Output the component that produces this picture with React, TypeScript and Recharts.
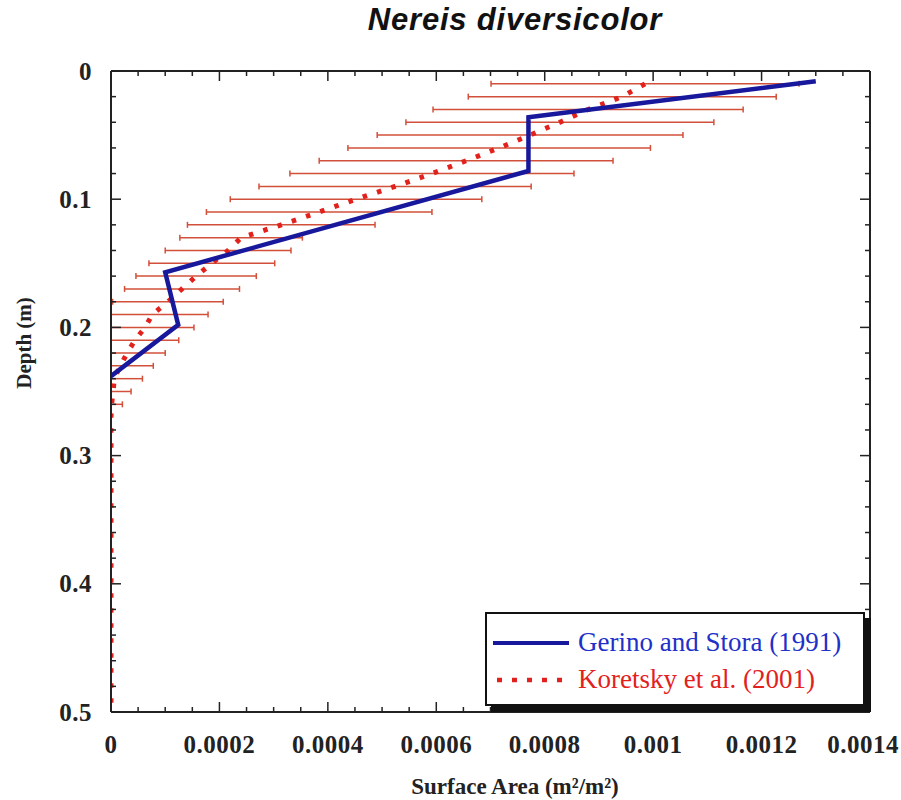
import { LineChart, Line, XAxis, YAxis, ErrorBar, Legend, Label } from 'recharts'

// Gerino and Stora (1991) profile
const gerinoDepth = [0.008, 0.036, 0.078, 0.157, 0.198, 0.238]
const gerinoArea = [0.0013, 0.00077, 0.00077, 0.0001, 0.000124, 0]

// Koretsky et al. (2001) mean profile with +/- error
const koretskyDepth = [
  0.01, 0.02, 0.03, 0.04, 0.05, 0.06, 0.07, 0.08, 0.09, 0.1,
  0.11, 0.12, 0.13, 0.14, 0.15, 0.16, 0.17, 0.18, 0.19, 0.2,
  0.21, 0.22, 0.23, 0.24, 0.25, 0.26, 0.27, 0.28, 0.29, 0.3,
  0.31, 0.32, 0.33, 0.34, 0.35, 0.36, 0.37, 0.38, 0.39, 0.4,
  0.41, 0.42, 0.43, 0.44, 0.45, 0.46, 0.47, 0.48, 0.49, 0.5,
]
const koretskyArea = [
  0.000985, 0.000943, 0.00088, 0.000828, 0.000773, 0.000716, 0.000655, 0.000592, 0.000524, 0.000452,
  0.000384, 0.000314, 0.00024, 0.000216, 0.000186, 0.000157, 0.000131, 0.000105, 0.000076, 0.000063,
  0.000044, 0.00003, 0.000017, 0.000006, 0.000004, 0.000001, 0, 0, 0, 0,
  0, 0, 0, 0, 0, 0, 0, 0, 0, 0,
  0, 0, 0, 0, 0, 0, 0, 0, 0, 0,
]
const koretskyErr = [
  0.000284, 0.000284, 0.000286, 0.000284, 0.000282, 0.000279, 0.000271, 0.000262, 0.000251, 0.000232,
  0.000208, 0.000173, 0.000113, 0.000116, 0.000116, 0.000111, 0.000106, 0.000102, 0.000103, 0.00009,
  0.000081, 0.00007, 0.000061, 0.000052, 0.000033, 0.00002,
]

const xMajorTicks = [0, 0.0002, 0.0004, 0.0006, 0.0008, 0.001, 0.0012, 0.0014]
const xTickLabels = ['0', '0.0002', '0.0004', '0.0006', '0.0008', '0.001', '0.0012', '0.0014']
const yMajorTicks = [0, 0.1, 0.2, 0.3, 0.4, 0.5]
const yTickLabels = ['0', '0.1', '0.2', '0.3', '0.4', '0.5']

// minor ticks: 4 per x interval, 5 per y interval
const xAllTicks = Array.from({ length: 29 }, (_, i) => (i * 5) / 100000)
const yAllTicks = Array.from({ length: 26 }, (_, i) => (i * 2) / 100)

const gerinoData = gerinoDepth.map((d, i) => ({ depth: d, area: gerinoArea[i] }))
// error bars are cut at the y axis (area can't go below 0)
const koretskyData = koretskyDepth.map((d, i) => {
  const e = koretskyErr[i]
  return {
    depth: d,
    area: koretskyArea[i],
    err: e == null ? null : [Math.min(e, koretskyArea[i]), e],
  }
})

const SERIF = '"Liberation Serif", "Times New Roman", serif'
const AXIS = '#222'
const BLUE = '#18189c'
const RED = '#e3211c'

const findMajor = (ticks: number[], v: number) => ticks.findIndex((t) => Math.abs(t - v) < 1e-9)

const tickText = {
  fontFamily: SERIF,
  fontWeight: 700,
  fontSize: 25,
  letterSpacing: 0.5,
  fill: '#222',
}

function BottomTick({ x, y, payload }: any) {
  const k = findMajor(xMajorTicks, payload.value)
  // last label sits on the page edge, keep it inside
  const last = k === xMajorTicks.length - 1
  return (
    <g>
      <line x1={x} y1={y} x2={x} y2={y - (k >= 0 ? 10 : 5)} stroke={AXIS} strokeWidth={1.5} />
      {k >= 0 && (
        <text
          x={last ? 899 : x}
          y={y + 32}
          textAnchor={last ? 'end' : 'middle'}
          dominantBaseline="central"
          style={tickText}
        >
          {xTickLabels[k]}
        </text>
      )}
    </g>
  )
}

function TopTick({ x, y, payload }: any) {
  const k = findMajor(xMajorTicks, payload.value)
  return <line x1={x} y1={y} x2={x} y2={y + (k >= 0 ? 10 : 5)} stroke={AXIS} strokeWidth={1.5} />
}

function LeftTick({ x, y, payload }: any) {
  const k = findMajor(yMajorTicks, payload.value)
  return (
    <g>
      <line x1={x} y1={y} x2={x + (k >= 0 ? 10 : 5)} y2={y} stroke={AXIS} strokeWidth={1.5} />
      {k >= 0 && (
        <text x={x - 19} y={y} textAnchor="end" dominantBaseline="central" style={tickText}>
          {yTickLabels[k]}
        </text>
      )}
    </g>
  )
}

function RightTick({ x, y, payload }: any) {
  const k = findMajor(yMajorTicks, payload.value)
  return <line x1={x} y1={y} x2={x - (k >= 0 ? 10 : 5)} y2={y} stroke={AXIS} strokeWidth={1.5} />
}

function LegendBox() {
  const row = { display: 'flex', alignItems: 'center', height: 37 }
  const text = { fontFamily: SERIF, fontSize: 27, marginLeft: 9, whiteSpace: 'nowrap' as const }
  return (
    <div
      style={{
        width: 380,
        height: 94,
        boxSizing: 'border-box',
        border: '2px solid #111',
        boxShadow: '6px 6px 0 #111',
        background: '#fff',
        paddingTop: 10,
        paddingLeft: 6,
      }}
    >
      <div style={row}>
        <svg width={76} height={10}>
          <line x1={0} y1={5} x2={76} y2={5} stroke={BLUE} strokeWidth={4} />
        </svg>
        <span style={{ ...text, color: '#2030c8' }}>Gerino and Stora (1991)</span>
      </div>
      <div style={row}>
        <svg width={76} height={10}>
          <line x1={4} y1={5} x2={76} y2={5} stroke={RED} strokeWidth={4.5} strokeDasharray="5 10" />
        </svg>
        <span style={{ ...text, color: RED }}>Koretsky et al. (2001)</span>
      </div>
    </div>
  )
}

export default function App() {
  return (
    <div style={{ position: 'relative', width: 901, height: 800, background: '#fff' }}>
      <style>{'body{margin:0}'}</style>
      <div
        style={{
          position: 'absolute',
          left: 0,
          width: 1030,
          top: 2,
          textAlign: 'center',
          fontFamily: '"Liberation Sans", Arial, sans-serif',
          fontWeight: 700,
          fontStyle: 'italic',
          fontSize: 31,
          letterSpacing: 0.8,
          color: '#111',
          zIndex: 1,
        }}
      >
        Nereis diversicolor
      </div>
      <LineChart
        width={901}
        height={800}
        layout="vertical"
        margin={{ top: 70, right: 30, bottom: 28, left: 31 }}
      >
        <XAxis
          xAxisId="bottom"
          type="number"
          dataKey="area"
          orientation="bottom"
          domain={[0, 0.0014]}
          allowDataOverflow
          ticks={xAllTicks}
          interval={0}
          height={60}
          tickSize={0}
          tickMargin={0}
          tickLine={false}
          tick={<BottomTick />}
          axisLine={{ stroke: AXIS, strokeWidth: 2 }}
        >
          <Label
            content={() => (
              <text
                x={515}
                y={786}
                textAnchor="middle"
                dominantBaseline="central"
                style={{ fontFamily: SERIF, fontWeight: 700, fontSize: 23, fill: '#222' }}
              >
                Surface Area (m²/m²)
              </text>
            )}
          />
        </XAxis>
        <XAxis
          xAxisId="top"
          type="number"
          dataKey="area"
          orientation="top"
          domain={[0, 0.0014]}
          allowDataOverflow
          ticks={xAllTicks}
          interval={0}
          height={1}
          tickSize={0}
          tickMargin={0}
          tickLine={false}
          tick={<TopTick />}
          axisLine={{ stroke: AXIS, strokeWidth: 2 }}
        />
        <YAxis
          yAxisId="left"
          type="number"
          dataKey="depth"
          orientation="left"
          domain={[0, 0.5]}
          allowDataOverflow
          ticks={yAllTicks}
          interval={0}
          width={80}
          tickSize={0}
          tickMargin={0}
          tickLine={false}
          tick={<LeftTick />}
          axisLine={{ stroke: AXIS, strokeWidth: 2 }}
        >
          <Label
            content={() => (
              <text
                x={24}
                y={343}
                transform="rotate(-90 24 343)"
                textAnchor="middle"
                dominantBaseline="central"
                style={{ fontFamily: SERIF, fontWeight: 700, fontSize: 21, fill: '#222' }}
              >
                Depth (m)
              </text>
            )}
          />
        </YAxis>
        <YAxis
          yAxisId="right"
          type="number"
          dataKey="depth"
          orientation="right"
          domain={[0, 0.5]}
          allowDataOverflow
          ticks={yAllTicks}
          interval={0}
          width={1}
          tickSize={0}
          tickMargin={0}
          tickLine={false}
          tick={<RightTick />}
          axisLine={{ stroke: AXIS, strokeWidth: 2 }}
        />
        <Legend
          layout="vertical"
          align="center"
          verticalAlign="middle"
          wrapperStyle={{ left: 485, top: 612, width: 380, height: 94 }}
          content={() => <LegendBox />}
        />
        {/* invisible copy so the mirrored top/right axes get a scale */}
        <Line
          data={koretskyData}
          xAxisId="top"
          yAxisId="right"
          dataKey="area"
          stroke="none"
          legendType="none"
          dot={false}
          activeDot={false}
          isAnimationActive={false}
        />
        <Line
          data={koretskyData}
          xAxisId="bottom"
          yAxisId="left"
          dataKey="area"
          name="Koretsky et al. (2001)"
          type="linear"
          stroke={RED}
          strokeWidth={5}
          strokeDasharray="4.5 10.5"
          dot={false}
          activeDot={false}
          isAnimationActive={false}
        >
          <ErrorBar dataKey="err" direction="x" width={3} stroke="#d2503a" strokeWidth={1.5} isAnimationActive={false} />
        </Line>
        <Line
          data={gerinoData}
          xAxisId="bottom"
          yAxisId="left"
          dataKey="area"
          name="Gerino and Stora (1991)"
          type="linear"
          stroke={BLUE}
          strokeWidth={4.5}
          dot={false}
          activeDot={false}
          isAnimationActive={false}
        />
      </LineChart>
    </div>
  )
}
